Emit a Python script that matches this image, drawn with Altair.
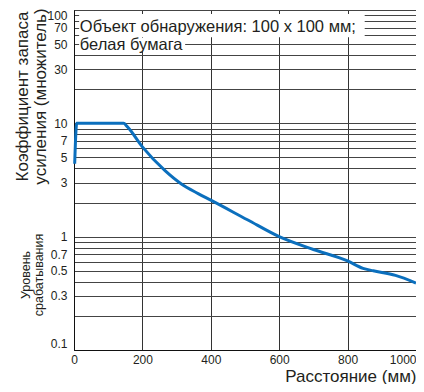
import altair as alt
import pandas as pd

# curve
distance = [2, 8, 145, 155, 200, 267, 315, 363, 400, 507, 600, 700, 800, 845, 875, 940, 1000]
gain = [4.4, 10, 10, 9.4, 6.2, 3.8, 2.9, 2.4, 2.1, 1.41, 1.0, 0.77, 0.61, 0.525, 0.50, 0.455, 0.39]

x_ticks = [0, 200, 400, 600, 800, 1000]
y_grid = [0.1, 0.2, 0.3, 0.4, 0.5, 0.6, 0.7, 0.8, 0.9,
          1, 2, 3, 4, 5, 6, 7, 8, 9,
          10, 20, 30, 40, 50, 60, 70, 80, 90, 100]
y_labels = [0.1, 0.3, 0.5, 0.7, 1, 3, 5, 7, 10, 30, 50, 70, 100]

note_lines = ["Объект обнаружения: 100 x 100 мм;", "белая бумага"]
note_x = [17, 17]
note_y = [70.8, 49]
box_x = [15, 15]
box_x2 = [850, 325]
box_y = [57.5, 43]
box_y2 = [92, 57]

x_title = "Расстояние (мм)"
y_title = ["Коэффициент запаса", "усиления (множитель)"]
sub_title = "Уровень\nсрабатывания"

FONT = "Liberation Sans"
BLUE = "#0b6fbd"
TXT = "#231f20"
W, H = 342, 340

df = pd.DataFrame({"d": distance, "g": gain})
notes = pd.DataFrame({"x": note_x, "y": note_y, "t": note_lines})
boxes = pd.DataFrame({"x": box_x, "x2": box_x2, "y": box_y, "y2": box_y2})

label_test = "indexof(" + str(y_labels) + ", datum.value) >= 0"

xs = alt.Scale(domain=[0, 1000], nice=False, zero=False)
ys = alt.Scale(type="log", domain=[0.1, 100], nice=False)

x_axis = alt.Axis(values=x_ticks, grid=True, ticks=False, labelFontSize=12,
                  labelPadding=4, labelColor=TXT, labelFont=FONT, format="d",
                  labelAlign={"condition": {"test": "datum.value == 1000", "value": "right"},
                              "value": "center"},
                  title=x_title, titleFont=FONT, titleFontSize=17,
                  titleFontWeight="normal", titleColor=TXT, titleAnchor="end",
                  titleAlign="right", titleBaseline="middle", titleX=W, titleY=26,
                  domainColor="#111", gridColor="#333333", gridWidth=1)
y_axis = alt.Axis(values=y_grid, grid=True, ticks=False, labelFontSize=12,
                  labelPadding=7, labelColor=TXT, labelFont=FONT, labelFlush=True,
                  format="~g", labelExpr=label_test + " ? datum.label : ''",
                  title=y_title, titleFont=FONT, titleFontSize=17,
                  titleFontWeight="normal", titleColor=TXT, titleAngle=270,
                  titleAlign="center", titleBaseline="middle", titleLineHeight=18,
                  titleX=-52, titleY=86,
                  domainColor="#111", gridColor="#444444", gridWidth=1)

line = alt.Chart(df).mark_line(color=BLUE, strokeWidth=3, interpolate="monotone").encode(
    x=alt.X("d:Q", scale=xs, axis=x_axis),
    y=alt.Y("g:Q", scale=ys, axis=y_axis),
)

box = alt.Chart(boxes).mark_rect(color="white").encode(
    x=alt.X("x:Q", scale=xs), x2="x2:Q",
    y=alt.Y("y:Q", scale=ys), y2="y2:Q",
)

text = alt.Chart(notes).mark_text(align="left", baseline="middle", font=FONT,
                                  fontSize=16.5, color=TXT).encode(
    x=alt.X("x:Q", scale=xs), y=alt.Y("y:Q", scale=ys), text="t:N",
)

sub = alt.Chart(pd.DataFrame({"t": [sub_title]})).mark_text(
    angle=270, align="center", baseline="middle", font=FONT, fontSize=12.5,
    lineHeight=13, lineBreak="\n", color=TXT,
).encode(x=alt.value(-48), y=alt.value(265), text="t:N")

chart = alt.layer(box, line, text, sub).properties(
    width=W, height=H,
    autosize=alt.AutoSizeParams(type="none"),
    padding={"left": 66, "top": 2, "right": 0, "bottom": 34},
    background="white",
).configure_view(stroke="#222", strokeWidth=1)

chart.save("out.html", embed_options={"renderer": "svg", "actions": False})
